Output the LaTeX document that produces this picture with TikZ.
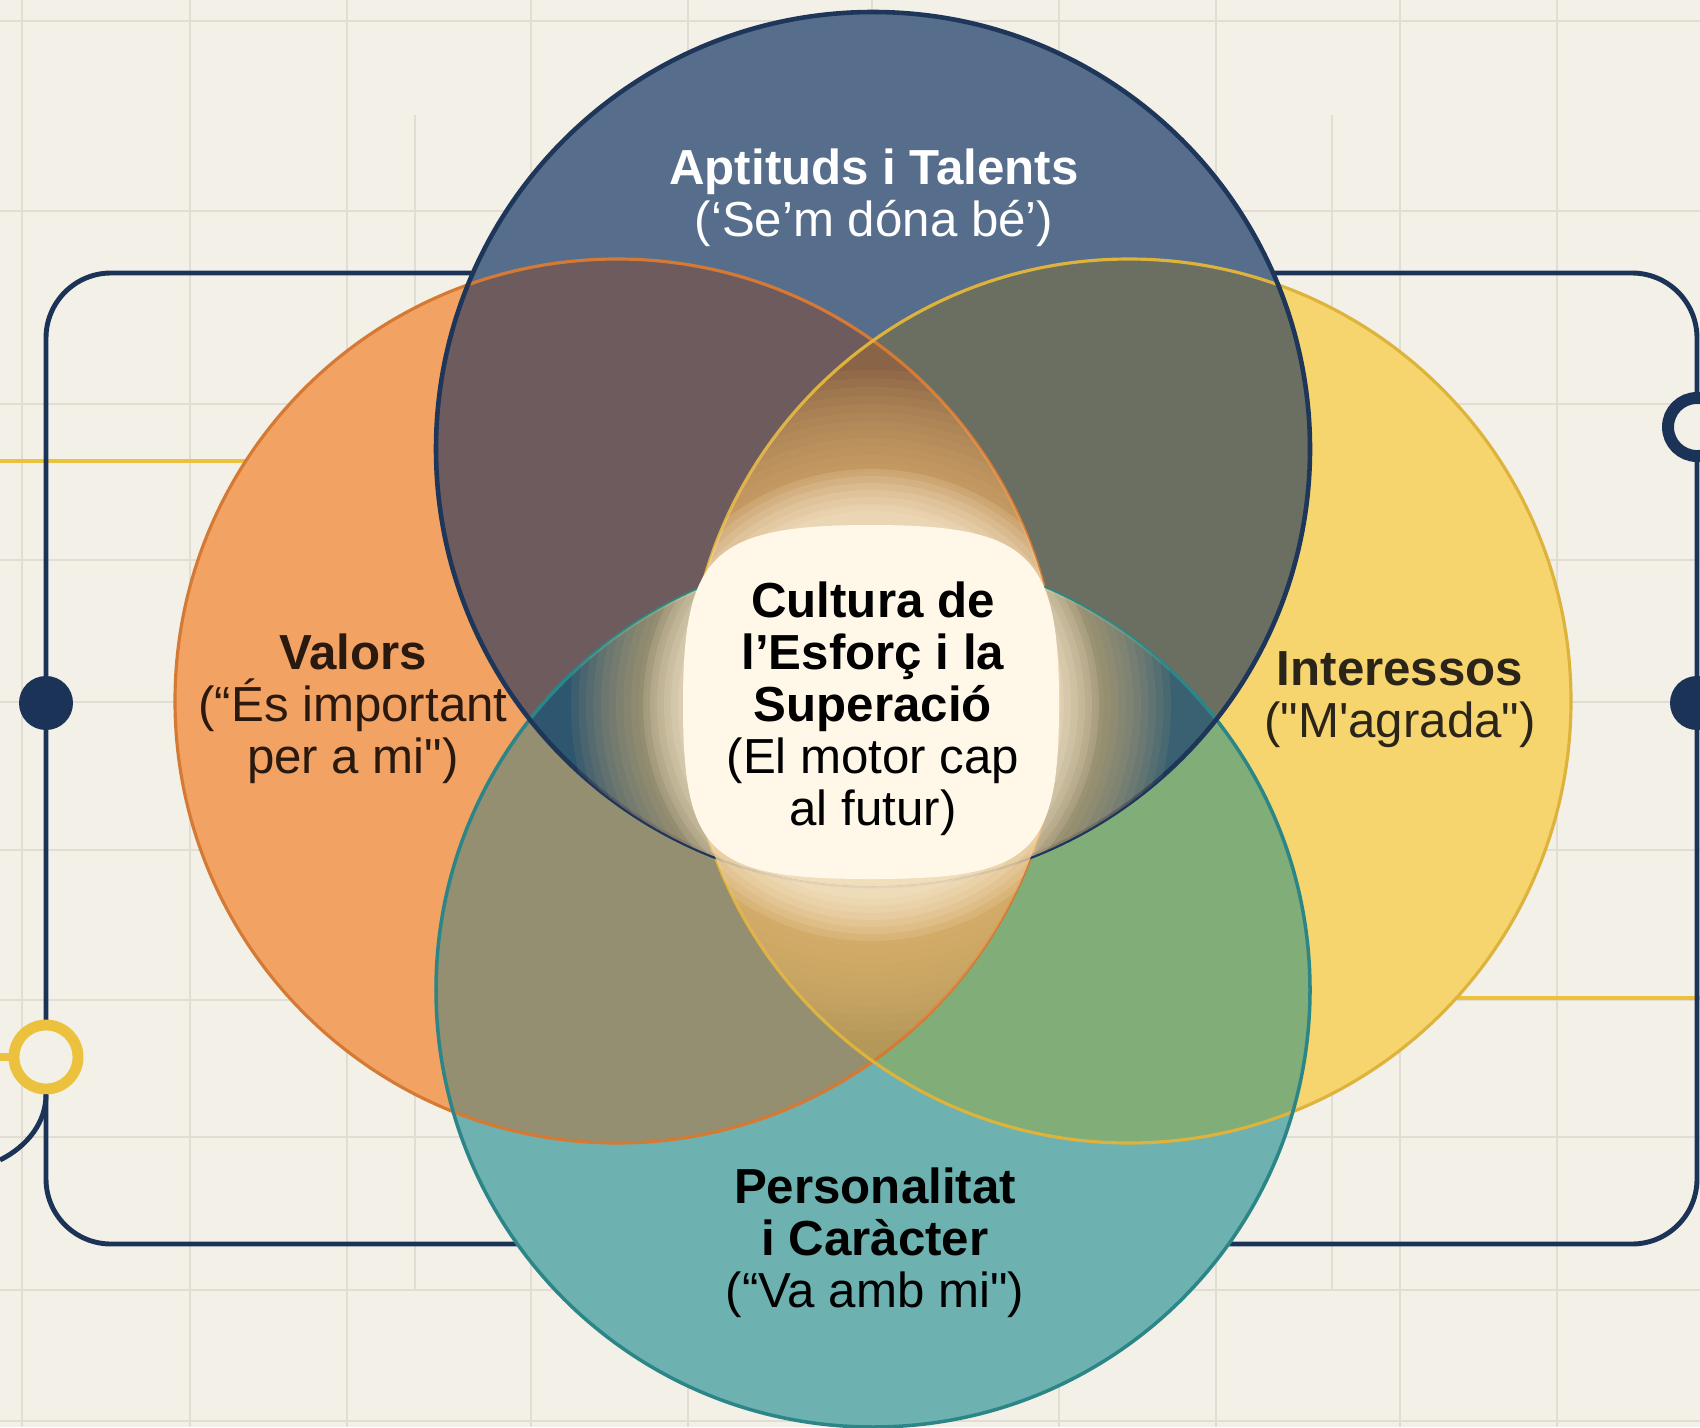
\documentclass[tikz,border=0pt]{standalone}
\usepackage{fontspec}
\setmainfont{Liberation Sans}[Ligatures=TeXOff]

\definecolor{bgcream}{HTML}{F3F0E7}
\definecolor{gridgray}{HTML}{E1DDD3}
\definecolor{navy}{HTML}{1C3358}
\definecolor{accentyellow}{HTML}{EBC13E}
% single circles
\definecolor{filltop}{HTML}{576D8C}
\definecolor{fillleft}{HTML}{F2A263}
\definecolor{fillright}{HTML}{F6D56E}
\definecolor{fillbottom}{HTML}{6DB2B0}
% pairs
\definecolor{filltopleft}{HTML}{6E5B5E}
\definecolor{filltopright}{HTML}{6B6F62}
\definecolor{fillbottomleft}{HTML}{938F70}
\definecolor{fillbottomright}{HTML}{80AD78}
% triples
\definecolor{filltriptop}{HTML}{8A6446}
\definecolor{filltripbottom}{HTML}{B39858}
\definecolor{filltripleft}{HTML}{2F566F}
\definecolor{filltripright}{HTML}{3A6172}
% glow
\definecolor{glowgold}{HTML}{EDBE78}
\definecolor{glowcream}{HTML}{FFF8E8}
% edges and text
\definecolor{edgetop}{HTML}{1E3659}
\definecolor{edgeleft}{HTML}{D57A35}
\definecolor{edgeright}{HTML}{DDB33C}
\definecolor{edgebottom}{HTML}{2C8688}
\definecolor{valorstext}{HTML}{2A190F}
\definecolor{interessostext}{HTML}{2B2419}

\def\squirclepath{(0,-180) .. controls (160,-180) and (188,-150) .. (188,0) .. controls (188,150) and (160,174) .. (0,174) .. controls (-160,174) and (-188,150) .. (-188,0) .. controls (-188,-150) and (-160,-180) .. (0,-180) -- cycle}

\tikzset{
    gridline/.style={draw=gridgray, line width=0.6pt},
    frameline/.style={draw=navy, line width=1.4pt},
    accentline/.style={draw=accentyellow, line width=1.3pt},
    dotnode/.style={circle, fill=navy, inner sep=0pt, minimum size=0.54cm},
    ringnode/.style={circle, fill=bgcream, inner sep=0pt},
    venntext/.style={align=center, inner sep=0pt, font=\fontsize{14}{14.8}\selectfont},
    goldring/.style={fill=glowgold, opacity=0.08},
    creamring/.style={fill=glowcream, opacity=0.13},
}

\begin{document}
\begin{tikzpicture}[x=0.01cm, y=-0.01cm]
\useasboundingbox (0,0) rectangle (1700,1427);
\fill[bgcream] (0,0) rectangle (1700,1427);

% --- grid ---
\foreach \gx in {22,190,347,531,688,872,1059,1216,1400,1557} {
    \draw[gridline] (\gx,0) -- (\gx,1427);
}
\foreach \gy in {21,211,404,560,702,850,1000,1137,1290,1421} {
    \draw[gridline] (0,\gy) -- (1700,\gy);
}
\draw[gridline] (415,115) -- (415,1290);
\draw[gridline] (1332,115) -- (1332,1290);

% --- frame ---
\coordinate (yellowstart) at (0,461);
\coordinate (yellowend) at (330,461);
\coordinate (yellowstartright) at (1300,998);
\coordinate (yellowendright) at (1700,998);
\coordinate (yellowstub) at (0,1057);
\coordinate (branchend) at (0,1160);

\draw[accentline] (yellowstart) -- (yellowend);
\draw[accentline] (yellowstartright) -- (yellowendright);
\draw[frameline, rounded corners=0.65cm] (46,273) rectangle (1697,1244);

\node [
    ringnode,
    draw=accentyellow,
    line width=3.1pt,
    minimum size=0.64cm,
] (ringleft) at (46,1057) {};

\node [
    ringnode,
    draw=navy,
    line width=3.4pt,
    minimum size=0.58cm,
] (ringright) at (1697,427) {};

\node [dotnode] (dotleft) at (46,703) {};
\node [dotnode] (dotright) at (1697,703) {};

\draw[accentline, line width=2pt] (yellowstub) -- (ringleft.west);
\draw[frameline] (ringleft.south) .. controls (46,1122) and (28,1146) .. (branchend);

% --- circles ---
\coordinate (ctop) at (873,449);
\coordinate (cbottom) at (873,990);
\coordinate (cleft) at (617,701);
\coordinate (cright) at (1129,701);
\coordinate (cglow) at (871,705);
\def\rtb{437}
\def\rlr{442}

\fill[fillleft] (cleft) circle (\rlr);
\fill[fillright] (cright) circle (\rlr);
\fill[fillbottom] (cbottom) circle (\rtb);
\fill[filltop] (ctop) circle (\rtb);

\begin{scope}
    \clip (ctop) circle (\rtb);
    \fill[filltopleft] (cleft) circle (\rlr);
    \fill[filltopright] (cright) circle (\rlr);
\end{scope}
\begin{scope}
    \clip (cbottom) circle (\rtb);
    \fill[fillbottomleft] (cleft) circle (\rlr);
    \fill[fillbottomright] (cright) circle (\rlr);
\end{scope}
\begin{scope}
    \clip (cleft) circle (\rlr);
    \clip (cright) circle (\rlr);
    \fill[filltriptop] (ctop) circle (\rtb);
    \fill[filltripbottom] (cbottom) circle (\rtb);
\end{scope}
\begin{scope}
    \clip (ctop) circle (\rtb);
    \clip (cbottom) circle (\rtb);
    \fill[filltripleft] (cleft) circle (\rlr);
    \fill[filltripright] (cright) circle (\rlr);
\end{scope}

% --- edges ---
\draw[edgeleft, line width=0.9pt] (cleft) circle (\rlr);
\draw[edgeright, line width=0.9pt] (cright) circle (\rlr);
\draw[edgebottom, line width=1pt] (cbottom) circle (\rtb);
\draw[edgetop, line width=1.3pt] (ctop) circle (\rtb);

% --- glow (stacked rings) ---
\begin{scope}
    \clip (cleft) circle (\rlr);
    \clip (cright) circle (\rlr);
    \foreach \k in {0,...,17} {
        \fill[goldring] (cglow) circle ({335-\k*8.5});
    }
    \foreach \k in {0,...,6} {
        \fill[creamring] (cglow) circle ({236-\k*7});
    }
\end{scope}
\begin{scope}
    \clip (ctop) circle (\rtb);
    \clip (cbottom) circle (\rtb);
    \foreach \k in {0,...,14} {
        \fill[goldring] (cglow) circle ({300-\k*7.5});
    }
    \foreach \k in {0,...,5} {
        \fill[creamring] (cglow) circle ({228-\k*7});
    }
\end{scope}

\begin{scope}[shift={(cglow)}]
    \fill[glowcream] \squirclepath;
\end{scope}

% --- labels ---
\node [venntext, text=white] (aptituds) at (874,198)
    {\textbf{Aptituds i Talents}\\(‘Se’m dóna bé’)};
\node [venntext, text=valorstext] (valors) at (353,709)
    {\textbf{Valors}\\(“És important\\per a mi")};
\node [venntext, text=interessostext] (interessos) at (1400,700)
    {\textbf{Interessos}\\("M'agrada")};
\node [venntext, text=black] (cultura) at (873,709)
    {\textbf{Cultura de}\\\textbf{l’Esforç i la}\\\textbf{Superació}\\(El motor cap\\al futur)};
\node [venntext, text=black] (personalitat) at (875,1243)
    {\textbf{Personalitat}\\\textbf{i Caràcter}\\(“Va amb mi")};

\end{tikzpicture}
\end{document}
